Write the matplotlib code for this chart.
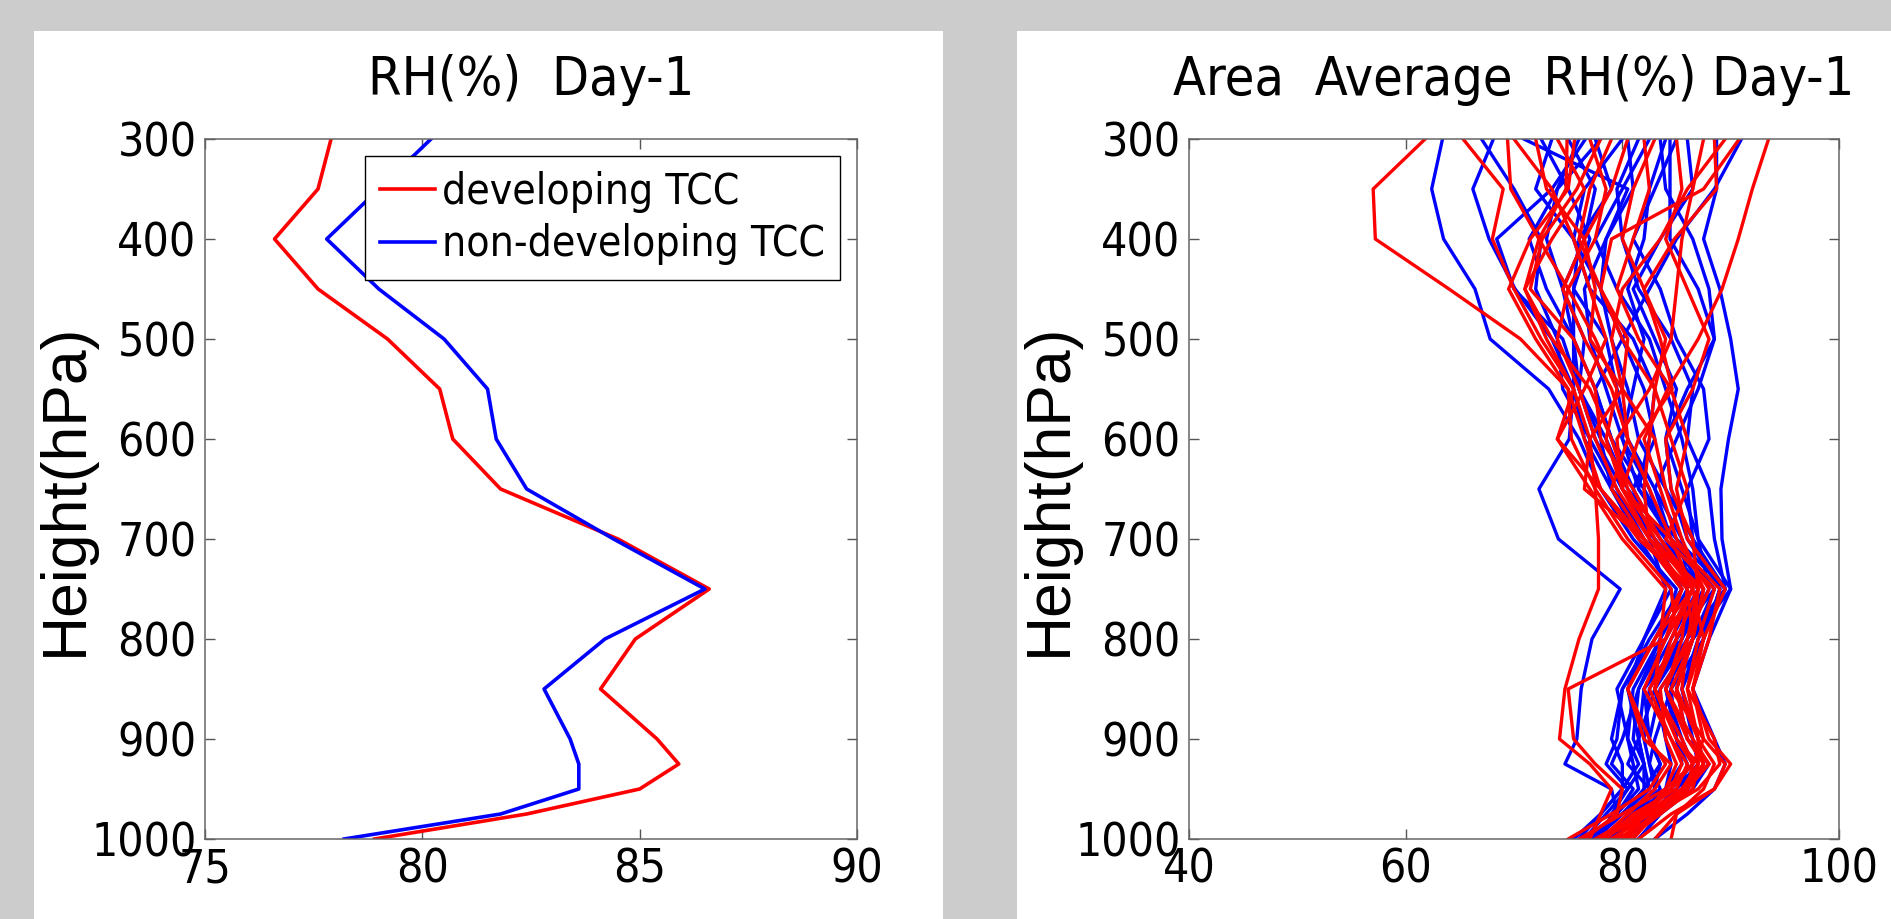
#!/usr/bin/env python3

import matplotlib
matplotlib.use("Agg")
import matplotlib.pyplot as plt
from matplotlib import font_manager
from matplotlib.font_manager import FontProperties
from matplotlib.patches import Rectangle

# pressure levels (hPa)
levels = [300, 350, 400, 450, 500, 550, 600, 650, 700, 750, 800, 850, 900, 925, 950, 975, 1000]

# left panel: composite RH profiles
rh_developing = [77.9, 77.6, 76.6, 77.6, 79.2, 80.4, 80.7, 81.8, 84.5, 86.6, 84.9, 84.1, 85.4, 85.9, 85.0, 82.4, 78.9]
rh_nondeveloping = [80.2, 79.0, 77.8, 79.0, 80.5, 81.5, 81.7, 82.4, 84.4, 86.5, 84.2, 82.8, 83.4, 83.6, 83.6, 81.8, 78.2]

# right panel: individual cases, developing (red)
dev_cases = [
    [61.8, 57.0, 57.2, 64.0, 70.6, 75.0, 76.5, 78.0, 82.0, 85.5, 83.0, 80.5, 82.5, 84.0, 82.5, 79.0, 75.0],
    [93.5, 92.0, 90.7, 89.2, 87.0, 84.2, 82.0, 83.5, 85.0, 88.0, 86.0, 84.0, 86.0, 88.0, 85.5, 82.0, 78.0],
    [65.3, 69.0, 68.0, 70.0, 72.5, 75.5, 74.0, 78.0, 81.5, 86.5, 84.5, 83.0, 85.0, 86.5, 84.0, 80.0, 76.0],
    [69.4, 69.7, 72.3, 75.0, 77.5, 79.5, 78.5, 80.0, 83.5, 87.0, 85.0, 82.5, 84.5, 85.5, 84.5, 81.5, 77.5],
    [74.9, 74.8, 72.3, 71.0, 73.0, 75.5, 77.0, 76.5, 82.0, 86.0, 86.5, 85.0, 87.0, 87.5, 86.0, 82.5, 79.0],
    [90.8, 87.5, 79.0, 78.0, 80.0, 83.0, 84.5, 86.0, 84.0, 88.5, 87.0, 86.0, 88.5, 89.0, 87.0, 83.0, 80.0],
    [88.5, 88.7, 84.8, 82.0, 83.5, 84.6, 81.5, 80.0, 84.5, 86.5, 84.0, 82.0, 84.5, 86.0, 85.0, 81.0, 78.5],
    [75.6, 75.0, 71.5, 69.5, 72.0, 75.0, 75.3, 77.5, 80.5, 84.5, 85.0, 83.0, 85.5, 86.5, 86.0, 82.5, 78.0],
    [78.0, 75.8, 72.6, 71.5, 75.5, 77.5, 78.0, 81.0, 83.5, 86.5, 87.5, 86.5, 87.5, 86.5, 84.5, 82.0, 80.0],
    [83.0, 81.0, 80.0, 82.0, 84.0, 83.0, 82.5, 82.0, 82.5, 87.0, 86.0, 85.5, 87.0, 87.0, 85.5, 83.0, 81.0],
    [79.0, 77.0, 76.0, 78.0, 80.5, 80.0, 77.0, 77.5, 77.8, 77.8, 76.0, 74.7, 74.2, 77.0, 79.0, 78.0, 77.0],
    [85.0, 85.5, 84.0, 86.0, 88.0, 86.5, 84.0, 84.5, 86.5, 87.0, 86.5, 84.5, 87.5, 89.5, 88.5, 85.0, 83.0],
    [72.0, 73.0, 76.5, 77.5, 77.0, 80.0, 80.5, 79.0, 82.0, 85.5, 84.0, 75.0, 75.5, 77.5, 80.0, 79.5, 76.5],
    [87.5, 86.5, 85.5, 85.0, 84.5, 82.5, 79.5, 80.0, 82.5, 87.5, 86.5, 83.5, 84.0, 85.0, 84.0, 82.0, 80.5],
    [70.0, 73.5, 75.5, 77.0, 78.5, 76.5, 74.0, 77.0, 80.0, 84.0, 83.5, 83.0, 85.0, 87.0, 86.5, 83.5, 79.5],
    [80.5, 79.0, 76.5, 74.5, 76.5, 79.0, 80.5, 82.5, 84.5, 89.0, 88.0, 86.5, 88.0, 90.0, 88.5, 84.5, 81.5],
    [74.0, 76.5, 73.5, 71.0, 73.5, 77.0, 79.0, 80.5, 83.0, 86.5, 83.0, 80.5, 82.0, 84.5, 83.0, 80.5, 78.0],
    [77.0, 78.5, 77.5, 75.0, 74.0, 76.0, 77.5, 79.5, 82.5, 86.0, 85.5, 84.0, 86.5, 88.0, 86.0, 83.5, 80.5],
    [89.5, 86.0, 83.5, 80.0, 79.0, 80.0, 83.0, 84.0, 85.5, 87.5, 86.5, 85.0, 86.0, 87.5, 85.5, 82.5, 79.0],
    [82.0, 82.5, 81.0, 79.5, 81.5, 84.5, 86.0, 85.0, 86.0, 89.5, 87.5, 86.0, 87.0, 88.5, 87.5, 85.0, 84.5],
]

# right panel: individual cases, non-developing (blue)
nondev_cases = [
    [63.4, 62.4, 63.5, 66.4, 67.8, 73.2, 76.0, 78.0, 81.0, 85.0, 83.5, 81.5, 81.0, 82.0, 80.5, 78.5, 76.5],
    [76.0, 74.0, 73.0, 74.5, 75.5, 75.5, 75.1, 72.3, 74.1, 79.8, 77.2, 76.2, 75.8, 74.7, 79.0, 79.5, 77.0],
    [68.1, 66.2, 67.7, 70.1, 73.5, 75.5, 76.5, 79.0, 83.0, 87.0, 85.5, 82.0, 81.5, 80.5, 82.5, 80.0, 76.5],
    [70.9, 80.5, 78.5, 76.5, 77.0, 78.5, 80.0, 81.5, 84.5, 88.5, 86.5, 83.5, 82.5, 83.5, 82.0, 80.5, 79.0],
    [76.6, 73.5, 68.4, 70.0, 74.5, 76.0, 78.5, 80.5, 84.0, 86.5, 84.0, 81.5, 80.0, 79.0, 81.0, 79.5, 77.5],
    [78.0, 74.0, 71.4, 73.0, 75.5, 76.0, 77.5, 80.0, 83.0, 85.5, 82.5, 80.0, 79.5, 78.5, 80.5, 79.0, 78.0],
    [88.7, 88.7, 87.5, 89.0, 90.0, 90.7, 89.8, 89.1, 89.2, 90.0, 88.0, 86.5, 88.5, 89.5, 88.5, 86.0, 83.0],
    [84.4, 84.4, 84.4, 87.0, 88.5, 86.0, 84.0, 85.5, 87.0, 90.0, 86.5, 84.0, 85.0, 86.0, 85.5, 83.0, 80.5],
    [80.0, 76.5, 75.5, 77.0, 81.0, 83.0, 82.5, 81.5, 85.0, 89.5, 86.0, 84.0, 85.5, 86.5, 84.5, 81.0, 78.0],
    [85.0, 83.0, 81.0, 83.5, 85.0, 87.5, 88.0, 86.0, 86.5, 89.5, 87.0, 85.5, 86.5, 87.0, 85.0, 82.5, 80.0],
    [82.5, 80.0, 77.5, 79.5, 82.5, 84.0, 85.5, 86.5, 87.0, 88.0, 85.5, 83.0, 84.0, 84.5, 84.0, 81.5, 79.0],
    [73.5, 72.0, 75.5, 78.0, 79.0, 80.5, 81.5, 84.0, 86.5, 89.0, 87.5, 84.5, 83.0, 82.5, 83.0, 81.0, 79.5],
    [91.0, 88.5, 85.0, 82.5, 80.0, 77.5, 79.0, 82.0, 84.5, 87.5, 86.0, 83.0, 81.5, 82.0, 82.5, 80.0, 77.5],
    [83.5, 84.0, 86.5, 88.0, 88.5, 87.0, 85.0, 83.0, 84.5, 88.5, 85.0, 82.5, 82.0, 82.5, 83.5, 81.0, 78.5],
    [75.0, 77.5, 76.5, 74.5, 76.5, 76.0, 78.0, 79.0, 81.5, 84.5, 82.0, 79.5, 80.5, 81.5, 80.0, 78.0, 76.0],
    [81.5, 79.5, 80.0, 81.5, 84.5, 86.5, 86.0, 88.0, 88.5, 89.5, 86.5, 85.0, 86.0, 88.0, 86.5, 83.5, 81.5],
    [77.5, 79.0, 76.0, 75.5, 78.5, 79.5, 80.5, 83.0, 85.5, 86.0, 83.5, 81.0, 80.5, 81.0, 81.5, 79.5, 77.0],
    [84.0, 82.5, 82.0, 80.5, 82.0, 81.0, 80.0, 82.5, 84.0, 87.0, 84.5, 82.0, 82.5, 83.5, 83.0, 80.5, 79.0],
    [67.0, 70.0, 72.5, 72.0, 74.0, 74.5, 77.0, 79.5, 82.0, 85.5, 83.0, 80.0, 79.0, 80.0, 80.0, 78.0, 75.5],
    [86.0, 86.5, 83.5, 81.0, 83.0, 85.0, 84.0, 84.5, 86.0, 89.0, 87.5, 85.5, 87.0, 87.5, 86.0, 83.5, 81.5],
    [80.5, 81.0, 78.5, 78.0, 80.0, 82.0, 83.0, 81.0, 83.5, 87.5, 85.0, 84.5, 85.0, 85.5, 84.0, 81.5, 80.5],
    [72.5, 75.0, 77.0, 75.5, 75.5, 77.5, 79.0, 81.0, 82.5, 84.0, 82.0, 80.5, 81.5, 82.0, 82.0, 80.0, 77.5],
]

left_xticks = [75, 80, 85, 90]
right_xticks = [40, 60, 80, 100]
yticks = [300, 400, 500, 600, 700, 800, 900, 1000]


def find_narrow_font():
    # look for any condensed / narrow sans face, else plain Liberation Sans
    keys = ("Narrow", "Condensed")
    for f in font_manager.fontManager.ttflist:
        if f.style != "normal" or f.weight not in (400, "normal", "regular"):
            continue
        if "Mono" in f.name or "Serif" in f.name:
            continue
        if any(k in f.name for k in keys) or str(f.stretch) in ("condensed", "semi-condensed"):
            return FontProperties(fname=f.fname)
    return FontProperties(family="Liberation Sans")


W, H = 1891, 919
fig = plt.figure(figsize=(W / 100, H / 100), dpi=100)
fig.patch.set_facecolor("#cccccc")
renderer = fig.canvas.get_renderer()

narrow = find_narrow_font()


def fit_size(fp, text, target_px, max_size):
    # font size so that the string is about target_px wide, capped
    probe = fp.copy()
    probe.set_size(20)
    t = fig.text(0, 0, text, fontproperties=probe)
    w = t.get_window_extent(renderer).width
    t.remove()
    return min(max_size, 20 * target_px / w)


def sized(fp, size):
    p = fp.copy()
    p.set_size(size)
    return p


tick_fp = sized(narrow, fit_size(narrow, "300", 79, 42))
title_fp = sized(narrow, fit_size(narrow, "Area  Average  RH(%) Day-1", 680, 48))
legend_fp = sized(narrow, fit_size(narrow, "non-developing TCC", 382, 40))
ylab_fp = FontProperties(family="Liberation Sans", size=45)

# white panels behind each subplot
for x0, x1 in ((34, 943), (1017, W)):
    fig.patches.append(Rectangle((x0 / W, 0), (x1 - x0) / W, (H - 31) / H,
                                 transform=fig.transFigure, facecolor="white",
                                 edgecolor="none", zorder=-10))

ax1 = fig.add_axes([205 / W, (H - 839) / H, 652 / W, 700 / H])
ax2 = fig.add_axes([1189 / W, (H - 839) / H, 650 / W, 700 / H])

ax1.plot(rh_developing, levels, color="red", lw=2.6, label="developing TCC")
ax1.plot(rh_nondeveloping, levels, color="blue", lw=2.6, label="non-developing TCC")

for prof in nondev_cases:
    ax2.plot(prof, levels, color="blue", lw=2.4)
for prof in dev_cases:
    ax2.plot(prof, levels, color="red", lw=2.4)

ax1.set_xlim(75, 90)
ax1.set_xticks(left_xticks)
ax2.set_xlim(40, 100)
ax2.set_xticks(right_xticks)

for ax, title in ((ax1, "RH(%)  Day-1"), (ax2, "Area  Average  RH(%) Day-1")):
    ax.set_ylim(1000, 300)
    ax.set_yticks(yticks)
    ax.tick_params(direction="in", length=7, width=1.0, color="#555555",
                   top=True, right=True)
    ax.tick_params(axis="x", pad=6)
    ax.tick_params(axis="y", pad=6)
    for lab in ax.get_xticklabels() + ax.get_yticklabels():
        lab.set_fontproperties(tick_fp)
    for sp in ax.spines.values():
        sp.set_color("#666666")
        sp.set_linewidth(1.1)
    ax.set_title(title, fontproperties=title_fp, pad=32)
    ax.set_ylabel("Height(hPa)", fontproperties=ylab_fp)
    ax.yaxis.set_label_coords(-0.169, 0.5)

leg = ax1.legend(loc="upper right", prop=legend_fp,
                 fancybox=False, framealpha=1, edgecolor="black",
                 handlelength=1.3, handletextpad=0.17, borderpad=0.35,
                 labelspacing=0.25, borderaxespad=0.4)
leg.get_frame().set_linewidth(1.0)

fig.savefig("out.png", dpi=100, facecolor=fig.get_facecolor())
